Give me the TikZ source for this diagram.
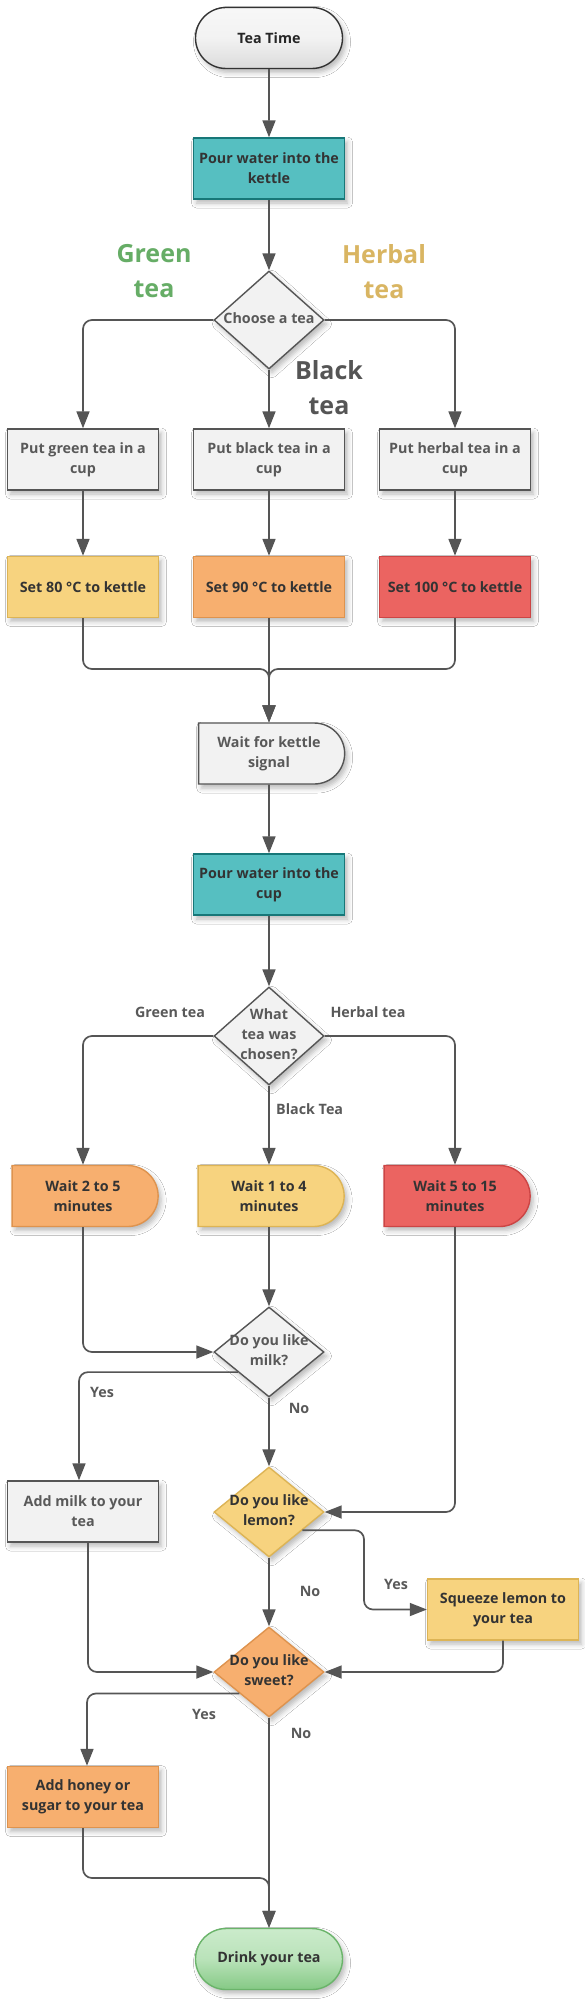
\documentclass[tikz,border=0pt]{standalone}
\usepackage{fontspec}
\setmainfont{Open Sans}
\usetikzlibrary{shapes.geometric,shapes.misc,arrows.meta,shadows.blur,calc}

\definecolor{ln}{HTML}{555555}
\definecolor{greyfill}{HTML}{F2F2F2}
\definecolor{tealfill}{HTML}{56BFC1}
\definecolor{tealdraw}{HTML}{177778}
\definecolor{yelfill}{HTML}{F7D37F}
\definecolor{yeldraw}{HTML}{DDB455}
\definecolor{orfill}{HTML}{F7AF6F}
\definecolor{ordraw}{HTML}{DE934E}
\definecolor{redfill}{HTML}{EB6461}
\definecolor{reddraw}{HTML}{CC4545}
\definecolor{greentxt}{HTML}{66AD66}
\definecolor{herbtxt}{HTML}{D9B562}
\definecolor{darktxt}{HTML}{333333}
\definecolor{greytxt}{HTML}{595959}
\definecolor{drinktop}{HTML}{CBEBCB}
\definecolor{drinkbot}{HTML}{85C985}
\definecolor{drinkdraw}{HTML}{6AB46A}

\newcommand{\dtext}[1]{\makebox[0pt]{\smash{\raisebox{-3.4pt}{\begin{tabular}{@{}c@{}}#1\end{tabular}}}}}

\tikzset{
  every node/.style={font=\fontsize{14.3}{20}\selectfont\bfseries},
  conn/.style={draw=ln, line width=1.7pt, rounded corners=9pt, -{Triangle[length=17pt,width=13pt]}},
  shad/.style={blur shadow={shadow xshift=3pt, shadow yshift=-4pt, shadow blur radius=5pt, shadow opacity=28}},
  box/.style={rectangle, minimum width=151pt, minimum height=61pt, inner sep=2pt, align=center, line width=1.4pt, shad},
  greybox/.style={box, fill=greyfill, draw=ln, text=greytxt},
  tealbox/.style={box, fill=tealfill, draw=tealdraw, text=darktxt},
  yelbox/.style={box, fill=yelfill, draw=yeldraw, text=darktxt},
  orbox/.style={box, fill=orfill, draw=ordraw, text=darktxt},
  redbox/.style={box, fill=redfill, draw=reddraw, text=darktxt},
  waitshape/.style={rounded rectangle, rounded rectangle left arc=none, minimum width=150pt, minimum height=61pt, inner sep=2pt, align=center, line width=1.4pt, shad},
  term/.style={rounded rectangle, minimum width=151pt, minimum height=61pt, inner sep=2pt, align=center, line width=1.4pt, shad},
  dia/.style={diamond, minimum width=110pt, minimum height=90pt, inner sep=0pt, line width=1.4pt, shad},
  lbl/.style={text=greytxt, inner sep=0pt},
  biglbl/.style={font=\fontsize{25}{35}\selectfont\bfseries, align=center, inner sep=0pt},
}

\begin{document}
\begin{tikzpicture}[x=1pt,y=-1pt]
\fill[white] (0,0) rectangle (585,1999);
\useasboundingbox (0,0) rectangle (585,1999);

% nodes
\node[term, draw=black!80, top color=black!3, bottom color=black!14, middle color=black!5, text=black!85] (start) at (269,38) {Tea Time};
\node[tealbox] (kettle) at (269,168.5) {Pour water into the\\kettle};
\node[dia, minimum height=98pt, fill=greyfill, draw=ln, text=greytxt] (choose) at (269,320) {\dtext{Choose a tea}};

\node[greybox] (putg) at (83,459.5) {Put green tea in a\\cup};
\node[greybox] (putb) at (269,459.5) {Put black tea in a\\cup};
\node[greybox] (puth) at (455,459.5) {Put herbal tea in a\\cup};

\node[yelbox] (set80) at (83,587) {Set 80 °C to kettle};
\node[orbox] (set90) at (269,587) {Set 90 °C to kettle};
\node[redbox] (set100) at (455,587) {Set 100 °C to kettle};

\node[waitshape, fill=greyfill, draw=ln, text=greytxt] (waitk) at (269,753.5) {Wait for kettle\\signal};
\node[tealbox] (cup) at (269,884.5) {Pour water into the\\cup};
\node[dia, minimum height=98pt, fill=greyfill, draw=ln, text=greytxt] (chosen) at (269,1036) {\dtext{What\\tea was\\chosen?}};

\node[waitshape, fill=orfill, draw=ordraw, text=darktxt] (w25) at (83,1196) {Wait 2 to 5\\minutes};
\node[waitshape, fill=yelfill, draw=yeldraw, text=darktxt] (w14) at (269,1196) {Wait 1 to 4\\minutes};
\node[waitshape, fill=redfill, draw=reddraw, text=darktxt] (w515) at (455,1196) {Wait 5 to 15\\minutes};

\node[dia, fill=greyfill, draw=ln, text=greytxt] (milk) at (269,1352) {\dtext{Do you like\\milk?}};
\node[greybox] (addmilk) at (83,1511.5) {Add milk to your\\tea};
\node[dia, fill=yelfill, draw=yeldraw, text=darktxt] (lemon) at (269,1512) {\dtext{Do you like\\lemon?}};
\node[yelbox] (squeeze) at (503,1609.5) {Squeeze lemon to\\your tea};
\node[dia, fill=orfill, draw=ordraw, text=darktxt] (sweet) at (269,1672) {\dtext{Do you like\\sweet?}};
\node[orbox] (honey) at (83,1797) {Add honey or\\sugar to your tea};
\node[term, draw=drinkdraw, top color=drinktop, bottom color=drinkbot, middle color=drinktop!75!drinkbot, text=darktxt] (drink) at (269,1959) {Drink your tea};

% labels
\node[biglbl, text=greentxt] (lgreen) at (154,271.5) {Green\\tea};
\node[biglbl, text=herbtxt] (lherbal) at (384,271.5) {Herbal\\tea};
\node[biglbl, text=ln] (lblack) at (329,387.5) {Black\\tea};
\node[lbl] (lgt) at (170,1012) {Green tea};
\node[lbl] (lht) at (368,1012) {Herbal tea};
\node[lbl, anchor=west] (lbt) at (276,1109) {Black Tea};
\node[lbl] (ymilk) at (102,1392) {Yes};
\node[lbl] (nmilk) at (299,1408) {No};
\node[lbl] (ylemon) at (396,1584) {Yes};
\node[lbl] (nlemon) at (310,1591) {No};
\node[lbl] (ysweet) at (204,1714) {Yes};
\node[lbl] (nsweet) at (301,1733) {No};

% junction points
\coordinate (j1) at (269,669);
\coordinate (j2) at (269,1878);
\coordinate (c1) at (364,1609.5);

% connectors
\draw[conn] (start) -- (kettle);
\draw[conn] (kettle) -- (choose);
\draw[conn] (choose.west) -| (putg.north);
\draw[conn] (choose.south) -- (putb.north);
\draw[conn] (choose.east) -| (puth.north);
\draw[conn] (putg) -- (set80);
\draw[conn] (putb) -- (set90);
\draw[conn] (puth) -- (set100);
\draw[conn] (set80.south) |- (j1) -- (waitk.north);
\draw[conn] (set100.south) |- (j1) -- (waitk.north);
\draw[conn] (set90.south) -- (waitk.north);
\draw[conn] (waitk) -- (cup);
\draw[conn] (cup) -- (chosen);
\draw[conn] (chosen.west) -| (w25.north);
\draw[conn] (chosen.south) -- (w14.north);
\draw[conn] (chosen.east) -| (w515.north);
\draw[conn] (w25.south) |- (milk.west);
\draw[conn] (w14.south) -- (milk.north);
\draw[conn] (w515.south) |- (lemon.east);
\draw[conn] ($(milk.west)!0.44!(milk.south)$) -| ($(addmilk.north)+(-4,0)$);
\draw[conn] (milk.south) -- (lemon.north);
\draw[conn] ($(addmilk.south)+(5,0)$) |- (sweet.west);
\draw[conn] ($(lemon.east)!0.4!(lemon.south)$) -| (c1) -- (squeeze.west);
\draw[conn] (lemon.south) -- (sweet.north);
\draw[conn] (squeeze.south) |- (sweet.east);
\draw[conn] ($(sweet.west)!0.47!(sweet.south)$) -| ($(honey.north)+(4,0)$);
\draw[conn] (sweet.south) -- (drink.north);
\draw[conn] (honey.south) |- (j2) -- (drink.north);
\end{tikzpicture}
\end{document}
